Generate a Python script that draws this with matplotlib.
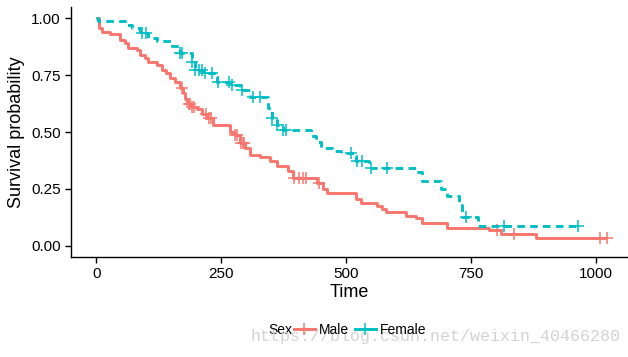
import numpy as np
import matplotlib
matplotlib.use("Agg")
import matplotlib.pyplot as plt
from matplotlib.lines import Line2D

plt.rcParams["font.family"] = ["Liberation Sans", "DejaVu Sans"]

# Kaplan-Meier steps (time, survival after the drop)
male_time = [0, 5, 12, 28, 48, 58, 64, 82, 88, 98, 104, 122, 132, 140, 148, 158, 168, 174, 178, 182,
             191, 201, 211, 221, 234, 267, 277, 287, 297, 307, 327, 347, 361, 383, 393, 441, 453, 461, 521, 531,
             563, 573, 581, 621, 641, 653, 703, 786, 810, 880]
male_surv = [1.0, 0.96, 0.942, 0.93, 0.907, 0.893, 0.87, 0.862, 0.84, 0.827, 0.81, 0.796, 0.773, 0.76, 0.738, 0.72, 0.693, 0.67, 0.645, 0.625,
             0.61, 0.60, 0.58, 0.56, 0.53, 0.50, 0.485, 0.45, 0.43, 0.40, 0.39, 0.373, 0.35, 0.33, 0.30, 0.277, 0.25, 0.23, 0.205, 0.19,
             0.173, 0.16, 0.147, 0.129, 0.12, 0.10, 0.08, 0.07, 0.053, 0.036]
male_end = 1022
male_cens = [172, 185, 188, 192, 196, 220, 226, 230, 278, 281, 289, 293, 296, 396, 405, 413, 420, 446,
             803, 836, 1008, 1022]

fem_time = [0, 4, 58, 71, 88, 104, 121, 151, 168, 191, 198, 214, 241, 267, 287, 307, 343, 351, 361, 373,
            430, 440, 450, 471, 491, 521, 547, 641, 653, 691, 703, 727, 733, 765]
fem_surv = [1.0, 0.99, 0.973, 0.96, 0.937, 0.916, 0.90, 0.877, 0.85, 0.81, 0.773, 0.76, 0.72, 0.707, 0.684, 0.655, 0.604, 0.56, 0.53, 0.507,
            0.484, 0.455, 0.43, 0.418, 0.41, 0.373, 0.343, 0.325, 0.284, 0.25, 0.218, 0.18, 0.128, 0.085]
fem_end = 965
fem_cens = [91, 100, 168, 172, 191, 198, 205, 211, 218, 231, 243, 265, 272, 291, 314, 327, 351, 361, 373, 379,
            510, 523, 533, 550, 583, 740, 816, 965]

red = "#F8766D"
teal = "#00BFC4"


def surv_at(times, surv, t):
    i = np.searchsorted(times, t, side="right") - 1
    return np.array(surv)[i]


fig = plt.figure(figsize=(6.28, 3.57), dpi=100)
ax = fig.add_axes([0.113, 0.280, 0.887, 0.700])

# male
mt = male_time + [male_end]
ms = male_surv + [male_surv[-1]]
ax.step(mt, ms, where="post", color=red, lw=2.1, solid_capstyle="butt")
ax.plot(male_cens, surv_at(male_time, male_surv, male_cens), ls="none", marker="+",
        ms=8, mew=1.1, color=red)

# female
ft = fem_time + [fem_end]
fs = fem_surv + [fem_surv[-1]]
ax.step(ft, fs, where="post", color=teal, lw=2.1, dashes=(2.6, 1.8))
ax.plot(fem_cens, surv_at(fem_time, fem_surv, fem_cens), ls="none", marker="+",
        ms=8, mew=1.1, color=teal)

ax.set_xlim(-51, 1065)
ax.set_ylim(-0.05, 1.05)
ax.set_xticks([0, 250, 500, 750, 1000])
ax.set_yticks([0, 0.25, 0.5, 0.75, 1.0])
ax.set_yticklabels(["0.00", "0.25", "0.50", "0.75", "1.00"])
for s in ["top", "right"]:
    ax.spines[s].set_visible(False)
for s in ["left", "bottom"]:
    ax.spines[s].set_linewidth(1.0)
ax.tick_params(labelsize=11, length=4, width=1.0, colors="black")
ax.set_xlabel("Time", fontsize=13, labelpad=2)
ax.set_ylabel("Survival probability", fontsize=13, labelpad=4)

# legend
fig.text(268 / 628, 1 - 330 / 357, "Sex", fontsize=10, va="center", ha="left")
handles = [Line2D([], [], color=red, lw=2.1, marker="+", ms=8, mew=1.1),
           Line2D([], [], color=teal, lw=2.1, marker="+", ms=8, mew=1.1)]
fig.legend(handles, ["Male", "Female"], ncol=2, frameon=False, fontsize=10,
           loc="center left", bbox_to_anchor=(294 / 628, 1 - 330 / 357),
           handlelength=1.5, handletextpad=0.3, columnspacing=0.4, borderaxespad=0, borderpad=0)

fig.text(620 / 628, 1 - 337 / 357, "https://blog.csdn.net/weixin_40466280", fontsize=12,
         family="Liberation Mono", color="#d3d3d3", ha="right", va="center")

fig.savefig("out.png", dpi=100)
